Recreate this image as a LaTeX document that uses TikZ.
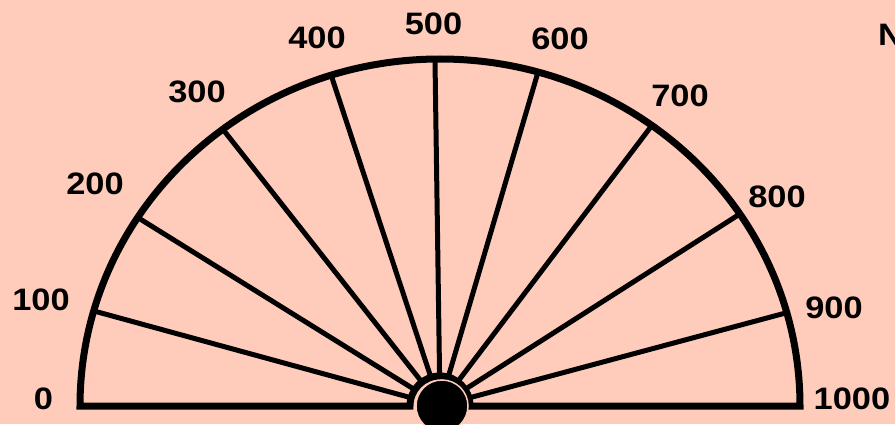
\documentclass[tikz,border=0pt]{standalone}
\usepackage{fontspec}
\newfontfamily\lbl{Liberation Sans}[FakeStretch=1.11]
\usetikzlibrary{calc}
\definecolor{bgpink}{RGB}{255,204,187}
\begin{document}
\begin{tikzpicture}[x=1pt,y=1pt,
  lab/.style={inner sep=0pt,font=\lbl\bfseries\fontsize{31}{31}\selectfont},
  thick line/.style={line width=7pt,draw=black},
  ray/.style={line width=5pt,draw=black}]
\fill[bgpink] (0,0) rectangle (895,424);
\useasboundingbox (0,0) rectangle (895,424);
\coordinate (c) at (440,18);
% ray ends on the outer arc
\foreach \n/\t in {r1/164.1,r2/147.1,r3/127.1,r4/107.6,r5/90.8,r6/74.2,r7/53.95,r8/33.6,r9/15.6}{
  \coordinate (\n) at ($(c)+(\t:360pt and 347pt)$);
  \coordinate (\n s) at ($(c)+(\t:29pt)$);
}
\foreach \n in {r1,r2,r3,r4,r5,r6,r7,r8,r9}{
  \draw[ray] (\n s) -- (\n);
}
% outline
\draw[thick line,line join=miter] (800,18) -- (470,18) arc[start angle=0,end angle=180,radius=30pt]
  -- (80,18) arc[start angle=180,end angle=0,x radius=360pt,y radius=347pt] -- cycle;
% hub
\node[circle,fill=black,draw=bgpink,line width=1.5pt,minimum size=52pt,inner sep=0pt] (hub) at (442,18) {};
% labels
\node[lab] (l0) at (43.5,25) {0};
\node[lab] (l1) at (41,124) {100};
\node[lab] (l2) at (95,240) {200};
\node[lab] (l3) at (197,332) {300};
\node[lab] (l4) at (317,386) {400};
\node[lab] (l5) at (433.5,400) {500};
\node[lab] (l6) at (560,385) {600};
\node[lab] (l7) at (680,328) {700};
\node[lab] (l8) at (777,227) {800};
\node[lab] (l9) at (834,116) {900};
\node[lab] (l10) at (852,25) {1000};
\node[lab,anchor=west] (ln) at (878,389) {N};
\end{tikzpicture}
\end{document}
